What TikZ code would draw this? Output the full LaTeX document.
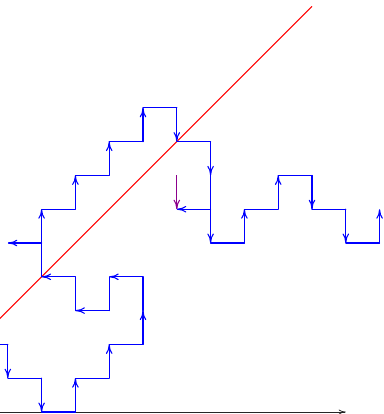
\documentclass[tikz,border=0pt]{standalone}
\usetikzlibrary{arrows.meta}
\definecolor{walkpurple}{RGB}{140,0,140}
\begin{document}
\begin{tikzpicture}[x=1cm,y=1cm,
  seg/.style={blue, line width=0.9pt, line cap=round},
  aseg/.style={seg, -{To[length=8pt,width=5.5pt]}},
  pseg/.style={walkpurple, line width=0.9pt, -{To[length=8pt,width=5.5pt]}},
  axisline/.style={black!85, line width=0.6pt, -{To[length=6pt,width=4pt]}},
  diag/.style={red, line width=0.8pt}]
\useasboundingbox (-0.231,-0.059) rectangle (11.13,12.19);
\clip (-0.231,-0.059) rectangle (11.13,12.19);
\foreach \i in {0,...,11}{\foreach \j in {0,...,12}{\coordinate (g\i-\j) at (\i,\j);}}
\coordinate (axL) at (-0.6,0);
\coordinate (rL) at (-1,2);
\coordinate (bL) at (-0.6,2);
% axis
\draw[axisline] (axL) -- (g10-0);
% diagonal
\draw[diag] (rL) -- (g9-12);
% walk
\draw[seg] (bL) -- (g0-2);
\draw[aseg] (g0-2) -- (g0-1);
\draw[seg] (g0-1) -- (g1-1);
\draw[aseg] (g1-1) -- (g1-0);
\draw[seg] (g1-0) -- (g2-0);
\draw[aseg] (g2-0) -- (g2-1);
\draw[seg] (g2-1) -- (g3-1);
\draw[aseg] (g3-1) -- (g3-2);
\draw[seg] (g3-2) -- (g4-2);
\draw[aseg] (g4-2) -- (g4-3);
\draw[seg] (g4-3) -- (g4-4);
\draw[aseg] (g4-4) -- (g3-4);
\draw[seg] (g3-4) -- (g3-3);
\draw[aseg] (g3-3) -- (g2-3);
\draw[seg] (g2-3) -- (g2-4);
\draw[aseg] (g2-4) -- (g1-4);
\draw[seg] (g1-4) -- (g1-5);
\draw[aseg] (g1-5) -- (g1-6);
\draw[aseg] (g1-5) -- (g0-5);
\draw[seg] (g1-6) -- (g2-6);
\draw[aseg] (g2-6) -- (g2-7);
\draw[seg] (g2-7) -- (g3-7);
\draw[aseg] (g3-7) -- (g3-8);
\draw[seg] (g3-8) -- (g4-8);
\draw[aseg] (g4-8) -- (g4-9);
\draw[seg] (g4-9) -- (g5-9);
\draw[aseg] (g5-9) -- (g5-8);
\draw[seg] (g5-8) -- (g6-8);
\draw[aseg] (g6-8) -- (g6-7);
\draw[seg] (g6-7) -- (g6-6);
\draw[aseg] (g6-6) -- (g5-6);
\draw[aseg] (g6-6) -- (g6-5);
\draw[seg] (g6-5) -- (g7-5);
\draw[aseg] (g7-5) -- (g7-6);
\draw[seg] (g7-6) -- (g8-6);
\draw[aseg] (g8-6) -- (g8-7);
\draw[seg] (g8-7) -- (g9-7);
\draw[aseg] (g9-7) -- (g9-6);
\draw[seg] (g9-6) -- (g10-6);
\draw[aseg] (g10-6) -- (g10-5);
\draw[seg] (g10-5) -- (g11-5);
\draw[aseg] (g11-5) -- (g11-6);
% purple
\draw[pseg] (g5-7) -- (g5-6);
\end{tikzpicture}
\end{document}
